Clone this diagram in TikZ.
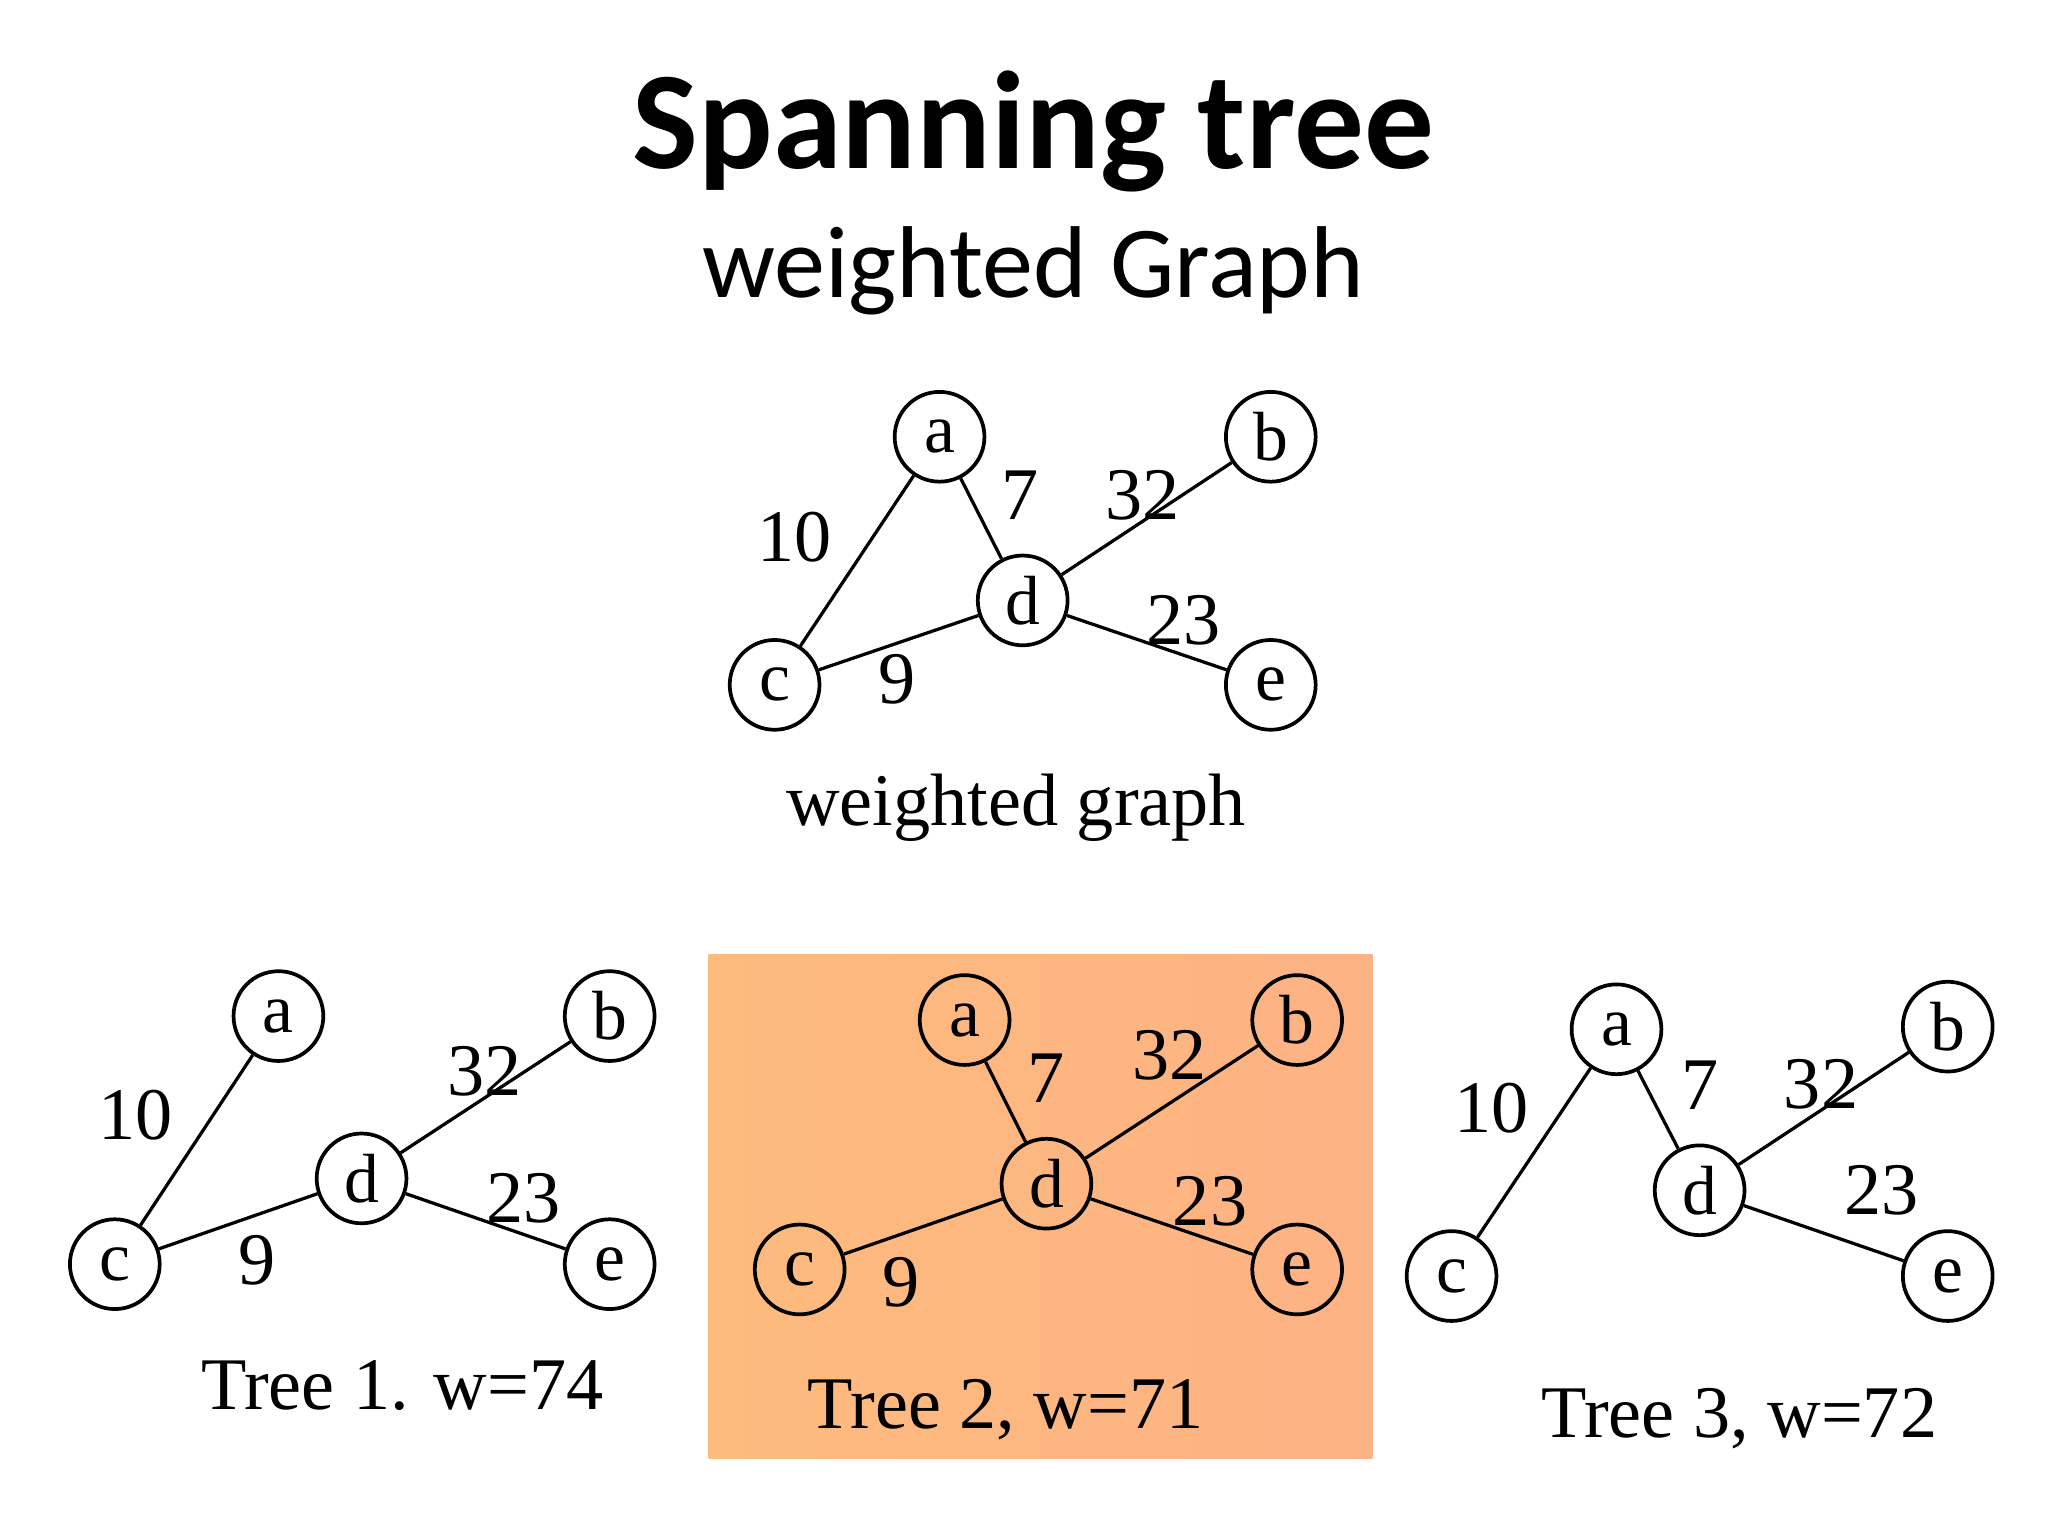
\documentclass[tikz,border=0pt]{standalone}
\usepackage{fontspec}
\setmainfont{Liberation Serif}
\newfontfamily\calfont{Carlito}
\begin{document}
\begin{tikzpicture}[x=0.01cm,y=-0.01cm,
 v/.style={circle,draw,thick,minimum size=0.68cm,inner sep=0pt,font=\fontsize{15}{15}\selectfont},
 w/.style={font=\fontsize{16}{16}\selectfont},
 captext/.style={font=\fontsize{16}{16}\selectfont},
 e/.style={line width=0.7pt}]
\useasboundingbox (0,0) rectangle (1552,1164);
\fill[left color={rgb,255:red,253;green,187;blue,125},right color={rgb,255:red,253;green,178;blue,132}] (537,723) rectangle (1040,1105);
\node[font=\calfont\bfseries\fontsize{30}{30}\selectfont] (t) at (783,100) {Spanning tree};
\node[font=\calfont\fontsize{22}{22}\selectfont] (s) at (783,205) {weighted Graph};
% top graph
\node[v] (a0) at (712,331) {a}; \node[v] (b0) at (963,331) {b};
\node[v] (c0) at (587,519) {c}; \node[v] (d0) at (775,455) {d};
\node[v] (e0) at (963,519) {e};
\draw[e] (a0)--(c0) (a0)--(d0) (d0)--(b0) (d0)--(c0) (d0)--(e0);
\node[w] at (602,407) {10}; \node[w] at (773,375) {7}; \node[w] at (866,375) {32};
\node[w] at (897,470) {23}; \node[w] at (680,515) {9};
\node[captext] (g0) at (770,612) {weighted graph};
% tree 1
\node[v] (a1) at (211,770) {a}; \node[v] (b1) at (462,770) {b};
\node[v] (c1) at (87,958) {c}; \node[v] (d1) at (274,893) {d};
\node[v] (e1) at (462,958) {e};
\draw[e] (a1)--(c1) (d1)--(b1) (d1)--(c1) (d1)--(e1);
\node[w] at (103,845) {10}; \node[w] at (367,812) {32};
\node[w] at (397,908) {23}; \node[w] at (195,955) {9};
\node[captext] (g1) at (305,1050) {Tree 1. w=74};
% tree 2
\node[v] (a2) at (731,773) {a}; \node[v] (b2) at (983,773) {b};
\node[v] (c2) at (606,962) {c}; \node[v] (d2) at (793,897) {d};
\node[v] (e2) at (983,962) {e};
\draw[e] (a2)--(d2) (d2)--(b2) (d2)--(c2) (d2)--(e2);
\node[w] at (793,817) {7}; \node[w] at (886,800) {32};
\node[w] at (917,910) {23}; \node[w] at (683,972) {9};
\node[captext] (g2) at (762,1068) {Tree 2, w=71};
% tree 3
\node[v] (a3) at (1225,780) {a}; \node[v] (b3) at (1476,778) {b};
\node[v] (c3) at (1100,967) {c}; \node[v] (d3) at (1288,902) {d};
\node[v] (e3) at (1476,967) {e};
\draw[e] (a3)--(c3) (a3)--(d3) (d3)--(b3) (d3)--(e3);
\node[w] at (1130,840) {10}; \node[w] at (1288,822) {7}; \node[w] at (1380,822) {32};
\node[w] at (1426,902) {23};
\node[captext] (g3) at (1318,1075) {Tree 3, w=72};
\end{tikzpicture}
\end{document}
